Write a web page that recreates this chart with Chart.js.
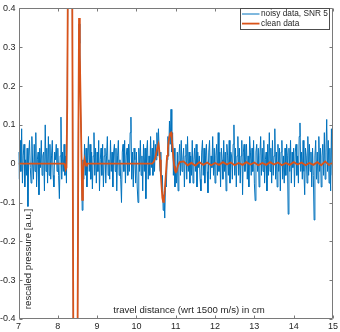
<!DOCTYPE html>
<html>
<head>
<meta charset="utf-8">
<script src="https://cdn.jsdelivr.net/npm/chart.js@4.4.1/dist/chart.umd.min.js"></script>
<style>
  html, body { margin: 0; padding: 0; background: #fff; }
  canvas { display: block; }
</style>
</head>
<body>
<canvas id="signalChart" width="340" height="332"></canvas>
<script>
// noisy trace is sampled on a regular grid (cm)
const sampleStart = 7;
const sampleStep = 0.02;
const noisyValues = [
  0.03, -0.04, 0.06, -0.02, 0.09, -0.05, 0.02, 0.05, -0.06, 0.01,
  -0.03, 0.04, -0.11, 0.02, 0.06, -0.01, -0.05, 0.07, 0.00, -0.04,
  0.05, -0.02, 0.08, -0.06, 0.01, 0.03, -0.08, 0.04, -0.01, 0.06,
  -0.03, 0.02, 0.03, -0.07, 0.10, -0.02, 0.04, -0.05, 0.07, -0.03,
  0.05, -0.04, 0.02, 0.06, -0.03, -0.06, 0.03, 0.01, 0.05, -0.02,
  0.04, -0.03, -0.09, 0.02, 0.12, -0.04, 0.03, -0.02, 0.05, -0.03,
  0.02, -0.05, 0.18, 0.57, 0.93, 0.98, 0.96, 0.83, 0.72, 0.03,
  -0.63, -0.88, -1.02, -0.87, -0.72, -0.47, 0.03, 0.36, 0.31, 0.13,
  0.06, -0.12, 0.01, -0.04, 0.05, -0.03, 0.04, -0.06, 0.02, 0.07,
  -0.02, 0.05, -0.04, 0.03, -0.065, 0.02, 0.08, -0.03, 0.04, -0.05,
  0.03, -0.02, 0.06, -0.07, 0.01, 0.04, -0.03, 0.05, -0.06, 0.02,
  0.04, -0.05, 0.02, 0.07, -0.03, 0.01, -0.04, 0.06, -0.02, 0.03,
  -0.06, 0.03, 0.05, -0.02, 0.04, -0.07, 0.02, 0.06, -0.03, 0.01,
  -0.04, -0.10, 0.03, 0.05, -0.02, 0.06, -0.05, 0.02, 0.04, -0.03,
  0.05, -0.02, 0.08, 0.12, -0.04, 0.03, -0.06, 0.04, 0.01, -0.05,
  0.03, -0.06, -0.10, 0.04, -0.02, 0.06, -0.03, 0.02, -0.07, 0.05,
  -0.02, 0.04, -0.09, 0.03, 0.06, -0.04, 0.02, -0.03, 0.07, -0.01,
  0.04, -0.03, 0.06, -0.02, 0.05, 0.01, 0.08, 0.02, 0.09, 0.03,
  -0.02, 0.03, -0.07, -0.03, -0.12, -0.08, -0.14, -0.05, -0.06, 0.01,
  0.07, 0.02, 0.11, 0.05, 0.14, 0.03, 0.08, -0.03, 0.04, -0.06,
  -0.01, -0.05, 0.03, -0.07, 0.02, 0.05, -0.03, 0.06, -0.02, 0.01,
  0.04, -0.06, 0.02, 0.05, -0.04, 0.07, -0.02, 0.03, -0.05, 0.02,
  -0.03, 0.06, -0.05, 0.01, 0.04, -0.02, 0.05, -0.06, 0.03, -0.01,
  0.02, -0.04, -0.07, 0.03, 0.06, -0.03, 0.04, -0.05, 0.02, 0.05,
  -0.02, -0.075, 0.03, 0.06, -0.04, 0.02, -0.01, 0.07, -0.03, 0.04,
  -0.05, 0.02, 0.05, -0.03, 0.08, -0.02, 0.03, -0.06, 0.04, 0.01,
  -0.04, 0.06, -0.02, 0.03, -0.07, 0.05, 0.02, -0.03, 0.06, -0.05,
  0.03, 0.02, -0.04, 0.05, 0.10, -0.03, 0.04, -0.06, 0.02, 0.07,
  -0.03, 0.04, -0.05, 0.02, 0.06, -0.08, 0.03, 0.05, -0.02, 0.01,
  0.05, -0.04, 0.02, -0.06, 0.07, 0.03, -0.03, 0.04, -0.02, 0.06,
  -0.05, -0.095, 0.03, 0.05, -0.02, 0.04, -0.06, 0.02, 0.07, -0.03,
  0.04, -0.02, 0.06, -0.05, 0.01, 0.03, -0.07, 0.05, -0.03, 0.08,
  -0.02, 0.04, -0.05, 0.06, -0.03, 0.02, 0.09, -0.04, 0.03, -0.06,
  0.05, -0.02, 0.04, -0.07, 0.03, 0.06, -0.04, 0.02, -0.05, 0.04,
  -0.03, 0.05, 0.02, -0.13, 0.04, -0.02, 0.06, -0.05, 0.03, -0.01,
  0.04, -0.06, 0.03, 0.05, -0.03, 0.02, -0.05, 0.07, 0.105, -0.02,
  0.03, -0.04, 0.06, -0.02, -0.08, 0.04, 0.02, -0.05, 0.07, -0.03,
  0.05, -0.02, 0.03, -0.06, 0.04, -0.03, -0.145, 0.02, 0.06, -0.04,
  0.03, -0.05, 0.07, -0.02, 0.04, -0.06, 0.02, 0.05, -0.03, 0.08,
  -0.04, 0.03, 0.114, -0.02, 0.06, -0.05, 0.04, -0.07, 0.09, -0.03,
  0.02
];

// clean trace, only where it changes
const cleanX = [
  7.00, 8.16, 8.18, 8.20, 8.22, 8.24, 8.26, 8.28, 8.30, 8.32, 8.34, 8.36, 8.38,
  8.40, 8.42, 8.44, 8.46, 8.48, 8.50, 8.52, 8.54, 8.56, 8.58, 8.60, 8.62, 8.64,
  8.66, 8.68, 8.70, 8.72, 8.74,
  10.40, 10.44, 10.48, 10.52, 10.56, 10.58, 10.60, 10.62, 10.64, 10.66, 10.68,
  10.70, 10.72, 10.74, 10.76, 10.78, 10.80, 10.82, 10.84, 10.86, 10.88, 10.90,
  10.92, 10.94, 10.96, 10.98, 11.00, 11.02, 11.04, 11.06,
  11.1, 11.2, 11.3, 11.4, 11.5, 11.6, 11.7, 11.8, 11.9, 12.0,
  12.1, 12.2, 12.3, 12.4, 12.5, 12.6, 12.7, 12.8, 12.9, 13.0,
  13.1, 13.2, 13.3, 13.4, 13.5, 13.6, 13.7, 13.8, 13.9, 14.0,
  14.1, 14.2, 14.3, 14.4, 14.5, 14.6, 14.7, 14.8, 14.9, 15.0
];
const cleanY = [
  0, 0, -0.005, -0.015, -0.01, 0.15, 0.55, 0.9, 1.0, 0.95, 0.85, 0.7, 0.0,
  -0.6, -0.9, -1.0, -0.85, -0.7, -0.5, 0.0, 0.375, 0.28, 0.16, 0.03, -0.093, -0.03,
  0.0, 0.012, 0.0, -0.005, 0,
  0, 0.005, 0.015, 0.035, 0.05, 0.035, 0.01, -0.025, -0.06, -0.088, -0.098,
  -0.09, -0.07, -0.04, -0.01, 0.02, 0.04, 0.058, 0.07, 0.078, 0.08, 0.065,
  0.04, 0.015, -0.005, -0.018, -0.022, -0.02, -0.012, -0.004,
  0.004, 0.006, -0.004, 0.002, -0.005, 0.004, -0.003, 0.003, -0.004, 0.002,
  -0.003, 0.004, -0.002, 0.003, -0.004, 0.002, -0.003, 0.004, -0.002, 0.003,
  -0.004, 0.002, -0.003, 0.004, -0.002, 0.003, -0.004, 0.002, -0.003, 0.004,
  -0.002, 0.003, -0.004, 0.002, -0.003, 0.004, -0.004, 0.006, -0.003, 0.002
];

const xTicks = [7, 8, 9, 10, 11, 12, 13, 14, 15];
const yTicks = [-0.4, -0.3, -0.2, -0.1, 0, 0.1, 0.2, 0.3, 0.4];
const seriesLabels = ['noisy data, SNR 5', 'clean data'];
const xTitle = 'travel distance (wrt 1500 m/s) in cm';
const yTitle = 'rescaled pressure [a.u.]';

const blue = '#0072BD';
const orange = '#D95319';
const axisColor = '#262626';
const fontFamily = '"Liberation Sans", Arial, sans-serif';

// MATLAB style box with inward ticks, axis titles inside, boxed legend
const matlabAxes = {
  id: 'matlabAxes',
  afterDatasetsDraw(chart) {
    const { ctx, chartArea: a, scales: { x, y } } = chart;
    ctx.save();
    ctx.strokeStyle = '#7a7a7a';
    ctx.lineWidth = 1;
    ctx.beginPath();
    const l = Math.round(a.left) + 0.5, r = Math.round(a.right) - 0.5;
    const t = Math.round(a.top) + 0.5, b = Math.round(a.bottom) - 0.5;
    ctx.rect(l, t, r - l, b - t);
    xTicks.forEach(v => {
      const px = Math.round(x.getPixelForValue(v)) + 0.5;
      ctx.moveTo(px, b); ctx.lineTo(px, b - 3);
      ctx.moveTo(px, t); ctx.lineTo(px, t + 3);
    });
    yTicks.forEach(v => {
      const py = Math.round(y.getPixelForValue(v)) + 0.5;
      ctx.moveTo(l, py); ctx.lineTo(l + 3, py);
      ctx.moveTo(r, py); ctx.lineTo(r - 3, py);
    });
    ctx.stroke();

    ctx.fillStyle = axisColor;
    ctx.font = '9.6px ' + fontFamily;
    ctx.textAlign = 'center';
    ctx.textBaseline = 'middle';
    ctx.fillText(xTitle, a.left + 170.5, a.bottom - 8.5);
    ctx.save();
    ctx.translate(a.left + 10, a.bottom - 60);
    ctx.rotate(-Math.PI / 2);
    ctx.fillText(yTitle, 0, 0);
    ctx.restore();

    // legend
    const lx = 240.5, ly = 8.5, lw = 89, lh = 21;
    ctx.fillStyle = '#fff';
    ctx.fillRect(lx, ly, lw, lh);
    ctx.strokeStyle = '#4d4d4d';
    ctx.strokeRect(lx, ly, lw, lh);
    ctx.font = '8.3px ' + fontFamily;
    ctx.textAlign = 'left';
    chart.data.datasets.forEach((ds, i) => {
      const yy = ly + 5.5 + i * 9.6;
      ctx.strokeStyle = ds.borderColor;
      ctx.lineWidth = ds.borderWidth;
      ctx.beginPath();
      ctx.moveTo(lx + 1.5, yy); ctx.lineTo(lx + 19, yy);
      ctx.stroke();
      ctx.fillStyle = axisColor;
      ctx.fillText(seriesLabels[i], lx + 20.5, yy);
    });
    ctx.restore();
  }
};

const ctx = document.getElementById('signalChart').getContext('2d');
const chart = new Chart(ctx, {
  type: 'line',
  data: {
    datasets: [{
      label: seriesLabels[0],
      data: noisyValues.map((v, i) => ({ x: sampleStart + i * sampleStep, y: v })),
      borderColor: blue,
      borderWidth: 1,
      pointRadius: 0,
      tension: 0,
      order: 1
    }, {
      label: seriesLabels[1],
      data: cleanX.map((v, i) => ({ x: v, y: cleanY[i] })),
      borderColor: orange,
      borderWidth: 1.8,
      pointRadius: 0,
      tension: 0,
      order: 0
    }]
  },
  options: {
    responsive: false,
    animation: false,
    parsing: false,
    layout: { autoPadding: false, padding: { top: 4, right: 5, left: 0, bottom: 0 } },
    plugins: {
      legend: { display: false },
      tooltip: { enabled: false }
    },
    scales: {
      x: {
        type: 'linear',
        min: 7,
        max: 15,
        afterBuildTicks: s => { s.ticks = xTicks.map(v => ({ value: v })); },
        afterFit: s => { s.height = 13; },
        grid: { display: false, drawTicks: false },
        border: { display: false },
        ticks: {
          padding: 2,
          maxRotation: 0,
          autoSkip: false,
          color: axisColor,
          font: { family: fontFamily, size: 9 }
        }
      },
      y: {
        type: 'linear',
        min: -0.4,
        max: 0.4,
        afterBuildTicks: s => { s.ticks = yTicks.map(v => ({ value: v })); },
        afterFit: s => { s.width = 18.5; },
        grid: { display: false, drawTicks: false },
        border: { display: false },
        ticks: {
          padding: 3,
          autoSkip: false,
          color: axisColor,
          font: { family: fontFamily, size: 9 },
          callback: v => String(+v.toFixed(1))
        }
      }
    }
  },
  plugins: [matlabAxes]
});
</script>
</body>
</html>
